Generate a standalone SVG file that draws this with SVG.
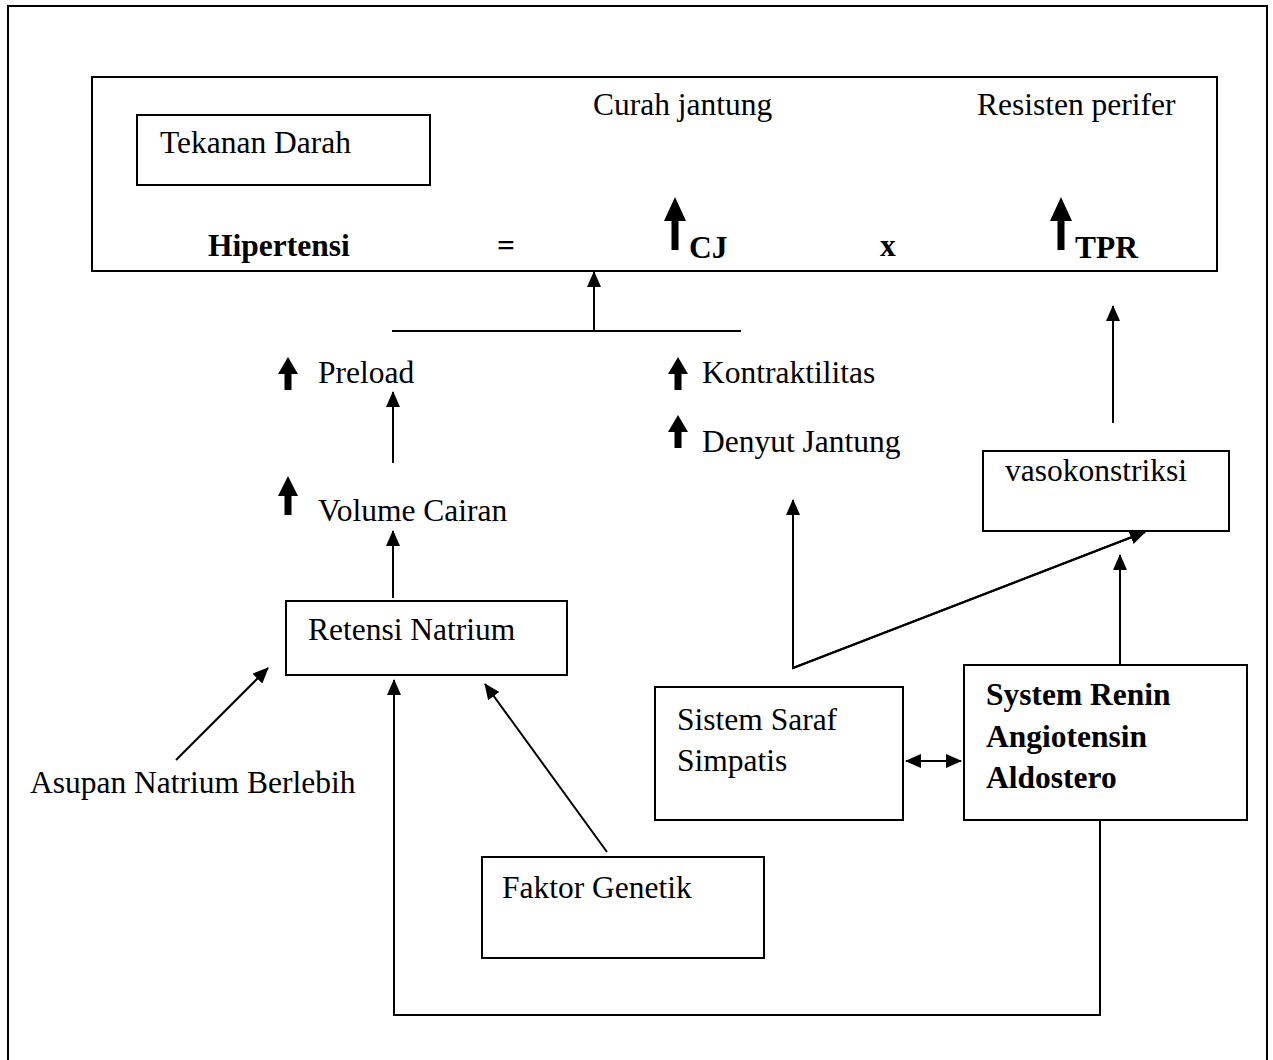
<svg xmlns="http://www.w3.org/2000/svg" width="1273" height="1060" viewBox="0 0 1273 1060">
<style>
.box{fill:#fff;stroke:#000;stroke-width:2}
.t{font-family:"Liberation Serif","Times New Roman",serif;font-size:31.5px;fill:#000}
.b{font-weight:bold}
.ln{fill:none;stroke:#000;stroke-width:2}
.ar{fill:none;stroke:#000;stroke-width:2;marker-end:url(#ah)}
</style>
<defs>
<marker id="ah" markerUnits="userSpaceOnUse" markerWidth="16" markerHeight="14" refX="15" refY="7" orient="auto">
<path d="M0,0 L16,7 L0,14 Z" fill="#000"/>
</marker>
<marker id="ahs" markerUnits="userSpaceOnUse" markerWidth="16" markerHeight="14" refX="1" refY="7" orient="auto">
<path d="M16,0 L0,7 L16,14 Z" fill="#000"/>
</marker>
<path id="up-s" d="M0,0 L10,17 L3.5,17 L3.5,33 L-3.5,33 L-3.5,17 L-10,17 Z" fill="#000"/>
<path id="up-b" d="M0,0 L11,24 L3.5,24 L3.5,53 L-3.5,53 L-3.5,24 L-11,24 Z" fill="#000"/>
</defs>
<rect width="1273" height="1060" fill="#fff"/>
<rect x="8" y="6" width="1259" height="1070" fill="none" stroke="#000" stroke-width="2"/>

<g id="main">
<rect class="box" x="92" y="77" width="1125" height="194"/>
<text class="t" x="593" y="115">Curah jantung</text>
<text class="t" x="977" y="115">Resisten perifer</text>
<text class="t b" x="208" y="256">Hipertensi</text>
<text class="t b" x="497" y="256">=</text>
<use href="#up-b" x="675" y="197"/>
<text class="t b" x="689" y="258">CJ</text>
<text class="t b" x="880" y="256">x</text>
<use href="#up-b" x="1061" y="197"/>
<text class="t b" x="1075" y="258">TPR</text>
</g>
<g id="tekanan">
<rect class="box" x="137" y="115" width="293" height="70"/>
<text class="t" x="160" y="153">Tekanan Darah</text>
</g>
<g id="preload">
<use href="#up-s" x="288" y="357"/>
<text class="t" x="318" y="383">Preload</text>
</g>
<g id="kontraktilitas">
<use href="#up-s" x="678" y="357"/>
<text class="t" x="702" y="383">Kontraktilitas</text>
</g>
<g id="denyut">
<use href="#up-s" x="678" y="415"/>
<text class="t" x="702" y="452">Denyut Jantung</text>
</g>
<g id="volume">
<use href="#up-s" transform="translate(288,476) scale(1,1.18)"/>
<text class="t" x="318" y="521">Volume Cairan</text>
</g>
<g id="retensi">
<rect class="box" x="286" y="601" width="281" height="74"/>
<text class="t" x="308" y="640">Retensi Natrium</text>
</g>
<g id="asupan">
<text class="t" x="30" y="793">Asupan Natrium Berlebih</text>
</g>
<g id="genetik">
<rect class="box" x="482" y="857" width="282" height="101"/>
<text class="t" x="502" y="898">Faktor Genetik</text>
</g>
<g id="sss">
<rect class="box" x="655" y="687" width="248" height="133"/>
<text class="t" x="677" y="730">Sistem Saraf</text>
<text class="t" x="677" y="771">Simpatis</text>
</g>
<g id="sra">
<rect class="box" x="964" y="665" width="283" height="155"/>
<text class="t b" x="986" y="705">System Renin</text>
<text class="t b" x="986" y="747">Angiotensin</text>
<text class="t b" x="986" y="788">Aldostero</text>
</g>
<g id="vaso">
<rect class="box" x="983" y="451" width="246" height="80"/>
<text class="t" x="1005" y="481">vasokonstriksi</text>
</g>

<g id="connectors">
<line class="ln" x1="392" y1="331" x2="741" y2="331"/>
<line class="ar" x1="594" y1="331" x2="594" y2="272"/>
<line class="ar" x1="393" y1="463" x2="393" y2="392"/>
<line class="ar" x1="393" y1="598" x2="393" y2="531"/>
<line class="ar" x1="176" y1="760" x2="268" y2="668"/>
<line class="ar" x1="607" y1="852" x2="485" y2="684"/>
<polyline class="ar" points="1100,820 1100,1015 394,1015 394,680"/>
<line class="ln" x1="906" y1="761" x2="961" y2="761" style="marker-start:url(#ahs);marker-end:url(#ah)"/>
<line class="ar" x1="1120" y1="665" x2="1120" y2="555"/>
<line class="ar" x1="1113" y1="423" x2="1113" y2="306"/>
<polyline class="ln" points="793,500 793,668 1145,532"/>
<line class="ar" x1="793" y1="668" x2="793" y2="500"/>
<line class="ar" x1="793" y1="668" x2="1145" y2="532"/>
</g>
</svg>
